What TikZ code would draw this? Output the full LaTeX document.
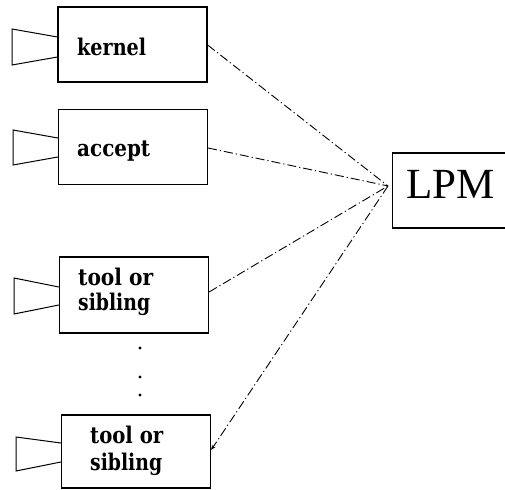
\documentclass[tikz,border=0pt]{standalone}
\usepackage{fontspec}
\usepackage{graphicx}
\usetikzlibrary{arrows.meta}
\newfontfamily\lpmfont{Liberation Serif}
\newfontfamily\lblfont{DejaVu Serif}
\newcommand{\fitw}[2]{\resizebox{#1pt}{\height}{#2}}
\begin{document}
\begin{tikzpicture}[x=1pt,y=-1pt,
  boxst/.style={draw,line width=1.2pt,minimum width=149pt,minimum height=75pt,inner sep=0pt},
  hornst/.style={draw,line width=1pt},
  linkst/.style={line width=0.9pt,dash pattern=on 9pt off 3pt on 1.2pt off 3pt},
  lbl/.style={font=\fontsize{23}{27}\lblfont\bfseries,anchor=base west,inner sep=0pt}]
\useasboundingbox (0,0) rectangle (505,489);
% boxes
\node[boxst] (k) at (132.5,44.5) {};
\node[boxst] (a) at (133,147) {};
\node[boxst,minimum height=76pt] (t1) at (134,295) {};
\node[boxst,minimum height=73pt] (t2) at (136,451.5) {};
\node[draw,line width=1.2pt,minimum width=115pt,minimum height=75pt,inner sep=0pt,anchor=west] (lpm) at (392,190.5) {};
% labels
\node[lbl] (kt) at (77,56) {\fitw{69}{kernel}};
\node[lbl] (at) at (77,157) {\fitw{73}{accept}};
\node[lbl] (t1a) at (78,285) {\fitw{75}{tool or}};
\node[lbl] (t1b) at (78,310) {\fitw{72}{sibling}};
\node[lbl] (t2a) at (90,443) {\fitw{73}{tool or}};
\node[lbl] (t2b) at (90,470) {\fitw{72}{sibling}};
\node[font=\fontsize{43}{48}\lpmfont,anchor=base west,inner sep=0pt] (lpmt) at (406,198) {LPM};
\coordinate (hub) at (388,186);
% horns
\draw[hornst] (k.west |- 0,37) -- (12,29) -- (12,65) -- (k.west |- 0,57);
\draw[hornst] (a.west |- 0,138) -- (13,130) -- (13,165) -- (a.west |- 0,157);
\draw[hornst] (t1.west |- 0,287) -- (14,278) -- (14,314) -- (t1.west |- 0,305);
\draw[hornst] (t2.west |- 0,443) -- (16,437) -- (16,471) -- (t2.west |- 0,462);
% dots
\node[circle,fill,inner sep=1.1pt] (d1) at (140,348) {};
\node[circle,fill,inner sep=1.1pt] (d2) at (140,377) {};
\node[circle,fill,inner sep=1.1pt] (d3) at (140,395) {};
% links
\draw[linkst] (k.east |- 0,45) -- (hub);
\draw[linkst] (a.east |- 0,148) -- (hub);
\draw[linkst] (t1.east |- 0,292) -- (hub);
\draw[linkst,-{Stealth[length=5pt,width=4pt]}] (hub) -- (t2.east |- 0,450);
\end{tikzpicture}
\end{document}
